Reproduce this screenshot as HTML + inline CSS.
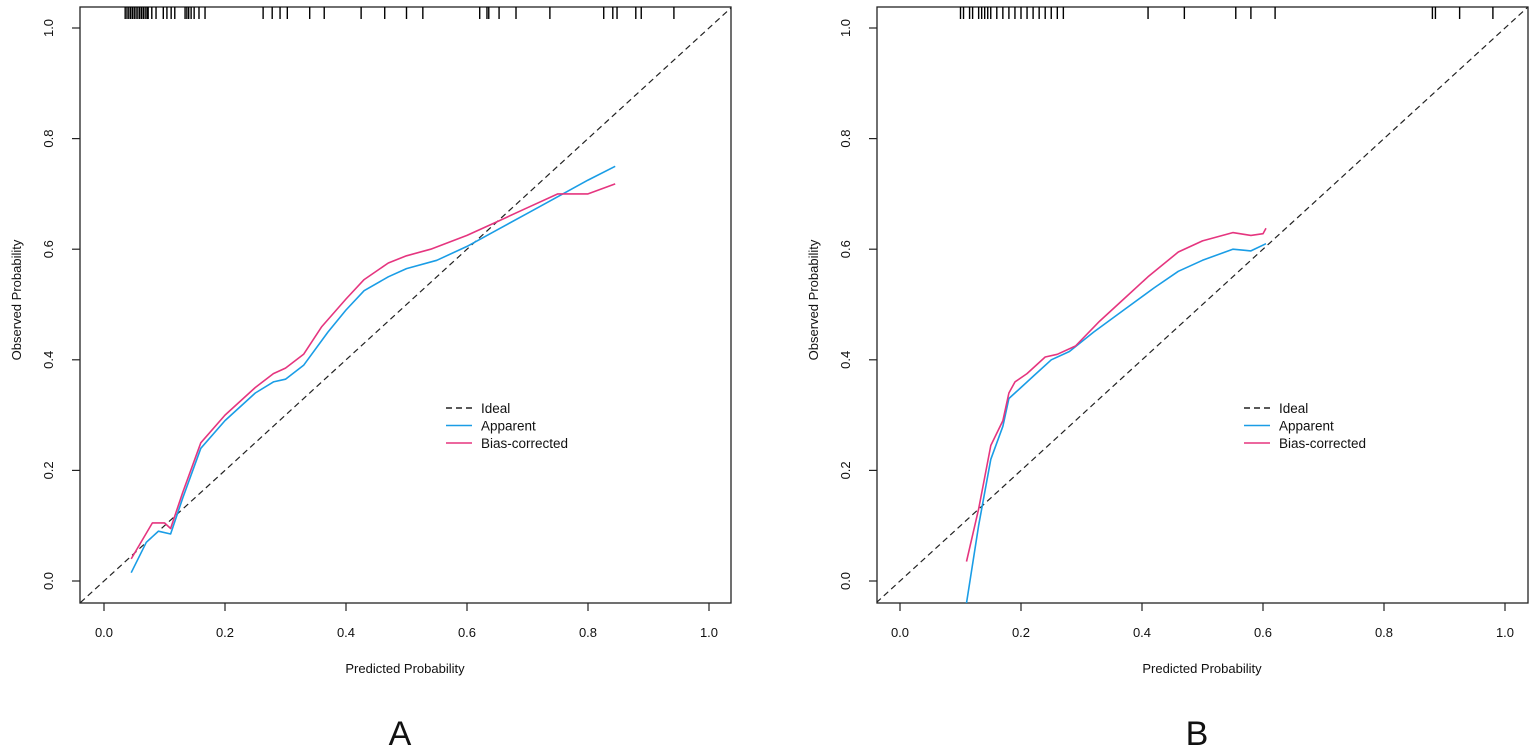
<!DOCTYPE html>
<html><head><meta charset="utf-8">
<style>
html,body{margin:0;padding:0;background:#fff;}
svg{display:block;font-family:"Liberation Sans",Arial,sans-serif;}
</style></head>
<body>
<svg id="chart" width="1535" height="753" viewBox="0 0 1535 753"></svg>
<script>
const tickValues = [0, 0.2, 0.4, 0.6, 0.8, 1.0];
const tickLabels = ["0.0", "0.2", "0.4", "0.6", "0.8", "1.0"];
const legendLabels = ["Ideal", "Apparent", "Bias-corrected"];

const aApparentX = [0.045,0.07,0.09,0.11,0.13,0.16,0.2,0.25,0.28,0.3,0.33,0.37,0.4,0.43,0.47,0.5,0.55,0.6,0.65,0.7,0.75,0.8,0.845];
const aApparentY = [0.015,0.07,0.09,0.085,0.15,0.24,0.29,0.34,0.36,0.365,0.39,0.45,0.49,0.525,0.55,0.565,0.58,0.605,0.635,0.665,0.695,0.725,0.75];
const aBiasX = [0.045,0.08,0.1,0.11,0.13,0.16,0.2,0.25,0.28,0.3,0.33,0.36,0.4,0.43,0.47,0.5,0.54,0.6,0.65,0.7,0.75,0.78,0.8,0.845];
const aBiasY = [0.04,0.105,0.105,0.095,0.16,0.25,0.3,0.35,0.375,0.385,0.41,0.46,0.51,0.545,0.575,0.588,0.6,0.625,0.65,0.675,0.7,0.7,0.7,0.718];
const aRug = [0.035,0.038,0.041,0.044,0.047,0.05,0.053,0.056,0.059,0.062,0.065,0.068,0.071,0.073,0.079,0.086,0.098,0.104,0.111,0.117,0.134,0.137,0.14,0.144,0.149,0.157,0.167,0.263,0.278,0.291,0.303,0.34,0.364,0.425,0.464,0.50,0.527,0.621,0.633,0.636,0.653,0.681,0.737,0.826,0.841,0.848,0.879,0.888,0.942];

const bApparentX = [0.11,0.13,0.15,0.17,0.18,0.2,0.22,0.25,0.28,0.32,0.37,0.42,0.46,0.5,0.55,0.57,0.58,0.605];
const bApparentY = [-0.04,0.1,0.22,0.28,0.33,0.35,0.37,0.4,0.415,0.45,0.49,0.53,0.56,0.58,0.6,0.598,0.597,0.61];
const bBiasX = [0.11,0.13,0.15,0.17,0.18,0.19,0.21,0.24,0.26,0.29,0.33,0.37,0.41,0.46,0.5,0.55,0.58,0.6,0.605];
const bBiasY = [0.035,0.13,0.245,0.29,0.34,0.36,0.375,0.405,0.41,0.425,0.47,0.51,0.55,0.595,0.615,0.63,0.625,0.628,0.638];
const bRug = [0.10,0.105,0.115,0.12,0.13,0.135,0.14,0.145,0.15,0.16,0.17,0.18,0.19,0.2,0.21,0.22,0.23,0.24,0.25,0.26,0.27,0.41,0.47,0.555,0.58,0.62,0.88,0.885,0.925,0.98];

const NS = "http://www.w3.org/2000/svg";
const svg = document.getElementById("chart");
function mk(tag, attrs, parent) {
  const e = document.createElementNS(NS, tag);
  for (const k in attrs) e.setAttribute(k, attrs[k]);
  (parent || svg).appendChild(e);
  return e;
}

function panel(cfg) {
  const g = mk("g", {});
  
  
  const L = cfg.left, R = cfg.left + 651, T = 7, B = 603;
  const x0 = cfg.x0, xs = 605, y0 = 581, ys = 553;
  const sx = v => x0 + v * xs;
  const sy = v => y0 - v * ys;
  const clipId = "clip" + cfg.id;
  const defs = mk("defs", {}, g);
  const cp = mk("clipPath", {id: clipId}, defs);
  mk("rect", {x: L, y: T, width: R - L, height: B - T}, cp);

  const box = mk("rect", {x: L, y: T, width: R - L, height: B - T, fill: "none", stroke: "#222", "stroke-width": 1.3}, g);
  
  

  tickValues.forEach((v, i) => {
    mk("line", {x1: sx(v), x2: sx(v), y1: B, y2: B + 8, stroke: "#222", "stroke-width": 1.2}, g);
    const t = mk("text", {x: sx(v), y: 637, "font-size": 13, "text-anchor": "middle", fill: "#111"}, g);
    t.textContent = tickLabels[i];
    
    
    mk("line", {x1: L, x2: L - 8, y1: sy(v), y2: sy(v), stroke: "#222", "stroke-width": 1.2}, g);
    const ty = mk("text", {x: 0, y: 0, "font-size": 13, "text-anchor": "middle", fill: "#111",
      transform: `translate(${L - 27},${sy(v)}) rotate(-90)`, dy: 0}, g);
    ty.textContent = tickLabels[i];
    
    
  });

  const xt = mk("text", {x: L + 325, y: 673, "font-size": 13, "text-anchor": "middle", fill: "#111"}, g);
  xt.textContent = "Predicted Probability";
  
  
  const yt = mk("text", {x: 0, y: 0, "font-size": 13, "text-anchor": "middle", fill: "#111",
    transform: `translate(${L - 59},${300}) rotate(-90)`}, g);
  yt.textContent = "Observed Probability";
  
  

  const pl = mk("text", {x: L + 320, y: 745, "font-size": 34, "text-anchor": "middle", fill: "#111"}, g);
  pl.textContent = cfg.id.toUpperCase();
  
  

  const clipG = mk("g", {"clip-path": `url(#${clipId})`}, g);
  const ideal = mk("line", {x1: sx(-0.1), y1: sy(-0.1), x2: sx(1.1), y2: sy(1.1), stroke: "#222", "stroke-width": 1.2, "stroke-dasharray": "6,4"}, clipG);
  
  

  cfg.rug.forEach(v => {
    const r = mk("line", {x1: sx(v), x2: sx(v), y1: T, y2: T + 12, stroke: "#000", "stroke-width": 1.4}, clipG);
    
    
  });

  const path = (xsA, ysA) => xsA.map((x, i) => (i ? "L" : "M") + sx(x).toFixed(1) + "," + sy(ysA[i]).toFixed(1)).join("");
  const app = mk("path", {d: path(cfg.ax, cfg.ay), fill: "none", stroke: "#1a9de6", "stroke-width": 1.6, "stroke-linejoin": "round"}, clipG);
  
  
  const bias = mk("path", {d: path(cfg.bx, cfg.by), fill: "none", stroke: "#e5357f", "stroke-width": 1.6, "stroke-linejoin": "round"}, clipG);
  
  

  const lg = mk("g", {}, g);
  
  
  const lx = cfg.legendX;
  const styles = [{stroke: "#222", dash: "6,4"}, {stroke: "#1a9de6", dash: ""}, {stroke: "#e5357f", dash: ""}];
  legendLabels.forEach((lab, i) => {
    const y = 408 + i * 17.5;
    const ln = mk("line", {x1: lx, x2: lx + 26, y1: y, y2: y, stroke: styles[i].stroke, "stroke-width": 1.5, "stroke-dasharray": styles[i].dash}, lg);
    
    
    const t = mk("text", {x: lx + 35, y: y + 5, "font-size": 13.5, fill: "#111"}, lg);
    t.textContent = lab;
    
    
  });
}

panel({id: "a", left: 80, x0: 104, rug: aRug, ax: aApparentX, ay: aApparentY, bx: aBiasX, by: aBiasY, legendX: 446});
panel({id: "b", left: 877, x0: 900, rug: bRug, ax: bApparentX, ay: bApparentY, bx: bBiasX, by: bBiasY, legendX: 1244});
</script>
</body></html>
